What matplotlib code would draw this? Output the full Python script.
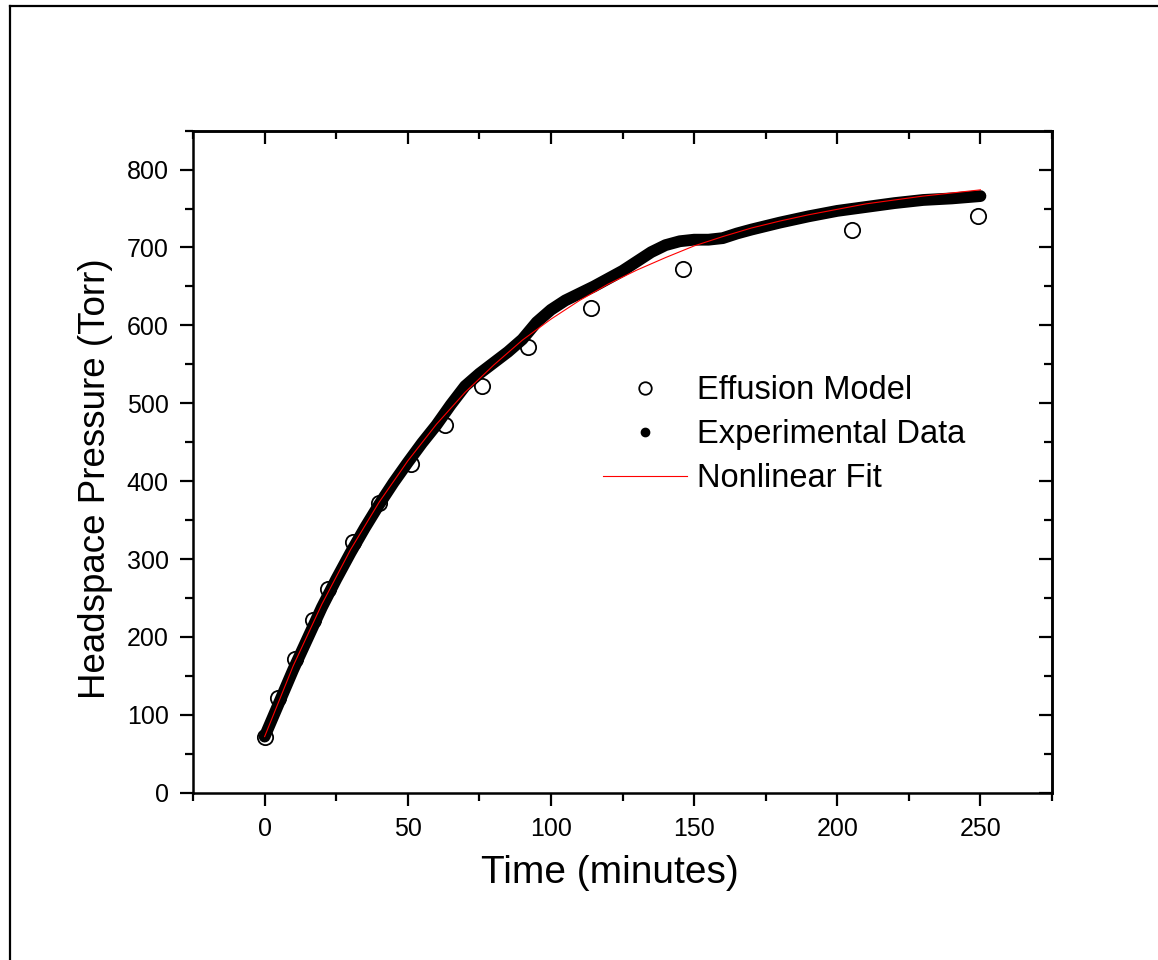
import matplotlib.pyplot as plt
from matplotlib.lines import Line2D
from matplotlib.ticker import MultipleLocator

plt.rcParams['font.family'] = ['Liberation Sans', 'DejaVu Sans']

# effusion model (open circles)
model_t = [0, 4.5, 10.5, 17, 22, 31, 40, 51, 63, 76, 92, 114, 146, 205, 249]
model_p = [71, 122, 172, 222, 262, 322, 372, 422, 472, 522, 572, 622, 672, 722, 740]

exp_t = [0, 5, 10, 15, 20, 25, 30, 35, 40, 45, 50, 55, 60, 65, 70, 75, 80, 85,
         90, 95, 100, 105, 110, 115, 120, 125, 130, 135, 140, 145, 150, 155, 160,
         165, 170, 180, 190, 200, 210, 220, 230, 240, 250]
exp_p = [72, 115, 158, 198, 238, 274, 308, 340, 370, 398, 424, 449, 472, 498,
         522, 538, 552, 566, 582, 604, 620, 632, 641, 650, 660, 670, 682, 694,
         703, 708, 710, 710, 712, 718, 723, 732, 740, 747, 752, 757, 761, 763, 766]

# nonlinear fit (red line)
fit_t = [0, 10, 20, 30, 40, 50, 60, 70, 80, 90, 100, 110, 120, 130, 140, 150,
         160, 170, 180, 190, 200, 210, 220, 230, 240, 250]
fit_p = [72, 163, 242, 312, 373, 426, 473, 514, 549, 581, 608, 632, 653, 671,
         687, 702, 714, 725, 734, 742, 749, 756, 761, 766, 770, 774]

fig = plt.figure(figsize=(11.58, 9.6), dpi=100)
ax = fig.add_axes([0.1667, 0.1743, 0.7418, 0.6896])

ax.plot(model_t, model_p, 'o', ms=11, mfc='none', mec='black', mew=1.3, zorder=2)
ax.plot(exp_t, exp_p, '-', color='black', lw=8.5, solid_capstyle='round',
        solid_joinstyle='round', zorder=3)
ax.plot(fit_t, fit_p, '-', color='red', lw=0.8, zorder=4)

ax.set_xlim(-25, 275)
ax.set_ylim(0, 850)
ax.xaxis.set_major_locator(MultipleLocator(50))
ax.xaxis.set_minor_locator(MultipleLocator(25))
ax.yaxis.set_major_locator(MultipleLocator(100))
ax.yaxis.set_minor_locator(MultipleLocator(50))

for s in ax.spines.values():
    s.set_linewidth(1.8)

ax.tick_params(which='both', direction='out', width=1.6, labelsize=18, pad=8,
               top=False, right=False)
ax.tick_params(which='major', length=9.5)
ax.tick_params(which='minor', length=5.5)

# top and right axes with inward ticks, no labels
top = ax.secondary_xaxis('top')
top.xaxis.set_major_locator(MultipleLocator(50))
top.xaxis.set_minor_locator(MultipleLocator(25))
top.tick_params(which='both', direction='in', width=1.6, labeltop=False)
top.tick_params(which='major', length=9.5)
top.tick_params(which='minor', length=5.5)
top.spines['top'].set_linewidth(1.8)

right = ax.secondary_yaxis('right')
right.yaxis.set_major_locator(MultipleLocator(100))
right.yaxis.set_minor_locator(MultipleLocator(50))
right.tick_params(which='both', direction='in', width=1.6, labelright=False)
right.tick_params(which='major', length=9.5)
right.tick_params(which='minor', length=5.5)
right.spines['right'].set_linewidth(1.8)

ax.set_xlabel('Time (minutes)', fontsize=28, labelpad=10)
ax.xaxis.label.set_x(0.485)
ax.set_ylabel('Headspace Pressure (Torr)', fontsize=26.5)
ax.yaxis.set_label_coords(-0.093, 0.474)

handles = [
    Line2D([], [], ls='none', marker='o', ms=9, mfc='none', mec='black', mew=1.3),
    Line2D([], [], ls='none', marker='o', ms=6, mfc='black', mec='black'),
    Line2D([], [], color='red', lw=0.8),
]
labels = ['Effusion Model', 'Experimental Data', 'Nonlinear Fit']
ax.legend(handles, labels, loc='upper left', bbox_to_anchor=(603 / 1158, 1 - 375 / 960),
          bbox_transform=fig.transFigure, frameon=False, fontsize=23.5,
          handlelength=2.58, handletextpad=0.3, labelspacing=0.4,
          borderpad=0, borderaxespad=0)

# frame lines of the figure (top and left only)
fig.add_artist(Line2D([10 / 1158, 1], [1 - 6 / 960, 1 - 6 / 960], color='black', lw=1.6))
fig.add_artist(Line2D([10 / 1158, 10 / 1158], [0, 1 - 6 / 960], color='black', lw=1.6))

fig.savefig('out.png', dpi=100)
